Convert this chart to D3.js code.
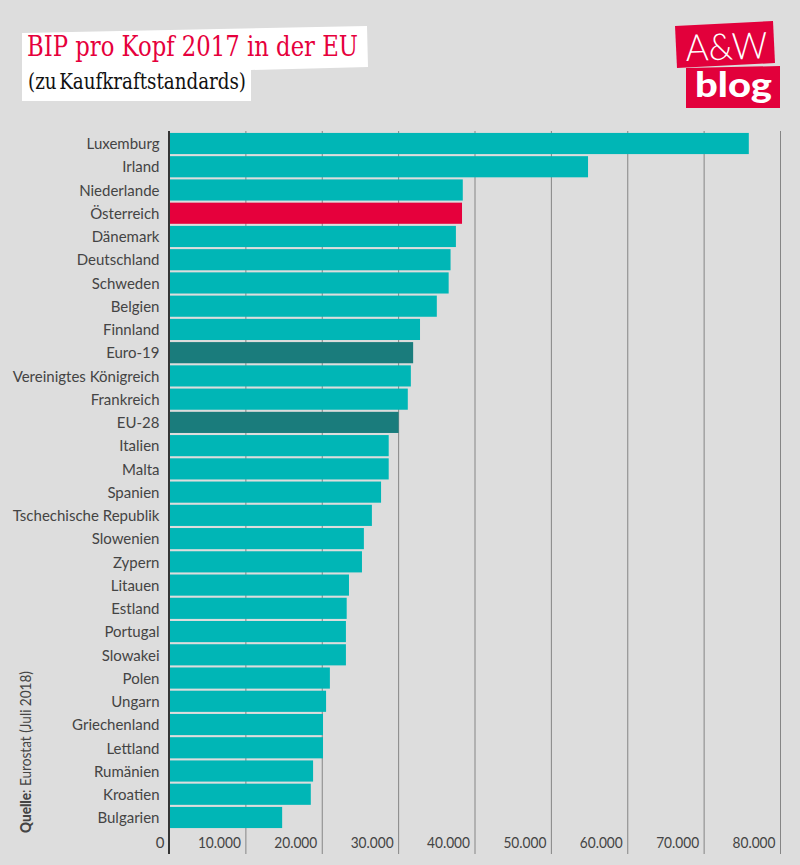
<!DOCTYPE html>
<html>
<head>
<meta charset="utf-8">
<script src="https://cdn.jsdelivr.net/npm/d3@7"></script>
<style>
  html, body { margin: 0; padding: 0; background: #dddddd; }
  svg { display: block; }
  text { font-family: Lato, "Noto Sans", sans-serif; }
  .axis .domain { display: none; }
  .axis text { fill: #444; font-size: 15px; }
</style>
</head>
<body>
<div id="chart"></div>
<script>
const countries = ["Luxemburg", "Irland", "Niederlande", "Österreich", "Dänemark", "Deutschland", "Schweden", "Belgien", "Finnland", "Euro-19", "Vereinigtes Königreich", "Frankreich", "EU-28", "Italien", "Malta", "Spanien", "Tschechische Republik", "Slowenien", "Zypern", "Litauen", "Estland", "Portugal", "Slowakei", "Polen", "Ungarn", "Griechenland", "Lettland", "Rumänien", "Kroatien", "Bulgarien"];
const values = [75850, 54800, 38400, 38300, 37500, 36800, 36550, 35000, 32800, 31900, 31600, 31200, 30000, 28700, 28700, 27700, 26500, 25450, 25200, 23500, 23200, 23100, 23100, 21000, 20500, 20100, 20100, 18800, 18500, 14750];
const xTicks = [0, 10000, 20000, 30000, 40000, 50000, 60000, 70000, 80000];
const highlight = { "Österreich": "#e6003c", "Euro-19": "#1a7c7c", "EU-28": "#1a7c7c" };

const width = 800, height = 865;
const svg = d3.select("#chart").append("svg").attr("width", width).attr("height", height);

const x = d3.scaleLinear().domain([0, 80000]).range([169.5, 780.5]);
const y = d3.scaleBand().domain(countries).range([132, 829]).paddingInner(0.09).paddingOuter(0.04);

// vertical grid, labels sit left of each line
const xAxis = d3.axisBottom(x)
  .tickValues(xTicks)
  .tickSize(723)
  .offset(0)
  .tickFormat(d => d3.format(",")(d).replace(/,/g, "."));

const gx = svg.append("g").attr("class", "axis").attr("transform", "translate(0,131)").call(xAxis);
gx.selectAll("line").attr("stroke", "#858585").attr("stroke-width", 1);
gx.selectAll("text")
  .attr("text-anchor", "end")
  .attr("x", -5)
  .attr("y", 712)
  .attr("dy", "0.35em")
  .attr("textLength", d => d === 0 ? null : 43)
  .attr("lengthAdjust", "spacingAndGlyphs");

svg.selectAll("rect.bar")
  .data(countries)
  .join("rect")
  .attr("class", "bar")
  .attr("x", x(0))
  .attr("y", d => y(d))
  .attr("width", (d, i) => x(values[i]) - x(0))
  .attr("height", y.bandwidth())
  .attr("fill", d => highlight[d] || "#00b6b6");

const yAxis = d3.axisLeft(y).tickSize(0).tickPadding(10).offset(0);
const gy = svg.append("g").attr("class", "axis").attr("transform", "translate(169.5,0.5)").call(yAxis);
gy.selectAll("text").attr("dy", "0.35em");

svg.append("line")
  .attr("x1", x(0) - 0.5).attr("x2", x(0) - 0.5)
  .attr("y1", 131).attr("y2", 854)
  .attr("stroke", "#333").attr("stroke-width", 2);

// title
svg.append("polygon").attr("points", "22,33 367,26 368,67 251,70 251,101 22,101").attr("fill", "#fff");
svg.append("text").attr("x", 27).attr("y", 55.5)
  .attr("textLength", 331).attr("lengthAdjust", "spacingAndGlyphs")
  .style("font-family", "'DejaVu Serif', serif").style("font-size", "28px")
  .attr("fill", "#e6003c").text("BIP pro Kopf 2017 in der EU");
svg.append("text").attr("x", 28).attr("y", 88.5)
  .attr("textLength", 218).attr("lengthAdjust", "spacingAndGlyphs")
  .style("font-family", "'DejaVu Serif', serif").style("font-size", "23px").style("word-spacing", "-4px")
  .attr("fill", "#111").text("(zu Kaufkraftstandards)");

// logo
svg.append("polygon").attr("points", "675,26 773,21 775,63 677,68").attr("fill", "#e2003b");
svg.append("polygon").attr("points", "686,68 780,66 780,108 686,108").attr("fill", "#e2003b");
svg.append("text").attr("transform", "translate(686,61) rotate(-2)")
  .attr("textLength", 82).attr("lengthAdjust", "spacingAndGlyphs")
  .style("font-family", "Lato, sans-serif").style("font-size", "37px").style("font-weight", 300)
  .attr("fill", "#fff").text("A&W");
svg.append("text").attr("x", 695).attr("y", 97)
  .attr("textLength", 77).attr("lengthAdjust", "spacingAndGlyphs")
  .style("font-family", "Lato, sans-serif").style("font-size", "34px").style("font-weight", 900)
  .attr("fill", "#fff").text("blog");

// source
const source = svg.append("text")
  .attr("transform", "translate(31,833) rotate(-90)")
  .attr("textLength", 162).attr("lengthAdjust", "spacingAndGlyphs")
  .attr("fill", "#444").style("font-size", "15px");
source.append("tspan").style("font-weight", 900).text("Quelle");
source.append("tspan").text(": Eurostat (Juli 2018)");
</script>
</body>
</html>
